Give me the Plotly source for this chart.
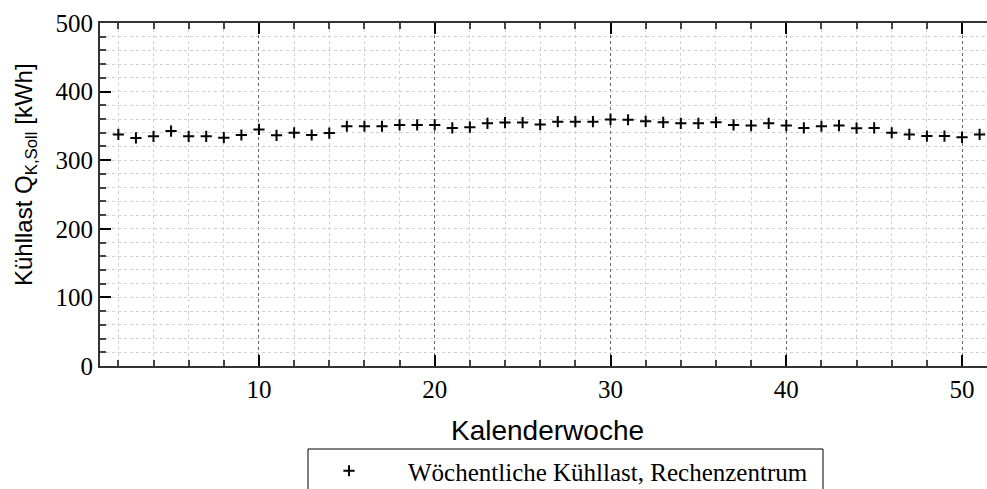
import plotly.graph_objects as go

# Wöchentliche Kühllast des Rechenzentrums (KW 2–51)
weeks = list(range(2, 52))
load_kwh = [
    337.6, 332.4, 334.8, 342.4, 334.8, 334.8, 332.9, 336.7, 344.8, 336.2,
    340.0, 336.7, 339.5, 349.5, 349.5, 349.5, 351.4, 351.4, 351.4, 347.1,
    348.1, 353.8, 354.8, 354.8, 351.9, 356.2, 356.2, 356.2, 359.5, 359.0,
    356.7, 355.2, 353.8, 353.8, 355.2, 351.4, 350.5, 353.8, 350.5, 347.1,
    349.5, 350.5, 346.7, 347.1, 340.0, 337.6, 335.2, 335.2, 333.3, 337.6,
]
series_name = "Wöchentliche Kühllast, Rechenzentrum"
x_title = "Kalenderwoche"
y_title = "Kühllast Q<sub>K,Soll</sub> [kWh]"

W, H = 987, 489
L, R, T, B = 100, 0, 23, 123

serif = "Liberation Serif"
sans = "Liberation Sans"
axis_col = "#333333"


def cx(px):
    """container x fraction from a pixel column"""
    return px / W


def cy(py):
    """container y fraction from a pixel row (measured from the top)"""
    return 1 - py / H


fig = go.Figure()
fig.add_trace(go.Scatter(
    x=weeks, y=load_kwh, mode="markers", name=series_name,
    marker=dict(symbol="cross-thin", size=8, color="black",
                line=dict(color="black", width=2)),
    cliponaxis=False,
))

fig.update_layout(
    width=W, height=H,
    margin=dict(l=L, r=R, t=T, b=B, autoexpand=False),
    paper_bgcolor="white", plot_bgcolor="white",
    font=dict(family=serif, size=24, color="black"),
    showlegend=True,
    legend=dict(
        xref="container", yref="container",
        x=cx(290), xanchor="left",
        y=cy(448), yanchor="top",
        bgcolor="rgba(0,0,0,0)", borderwidth=0,
        itemwidth=108,
        font=dict(family=serif, size=25, color="black"),
    ),
    xaxis=dict(
        range=[0.956, 51.42],
        automargin=False,
        tickmode="linear", tick0=0, dtick=10,
        ticks="inside", ticklen=11, tickwidth=1.5, tickcolor="black",
        showline=True, linecolor=axis_col, linewidth=2, mirror="allticks",
        showgrid=True, gridcolor="#6a6a6a", griddash="dot", gridwidth=1,
        zeroline=False,
        tickfont=dict(family=serif, size=25, color="black"),
        minor=dict(dtick=2, tick0=0, ticks="inside", ticklen=6,
                   tickcolor="#444444", showgrid=True,
                   gridcolor="#d0d0d0", griddash="dot", gridwidth=1),
    ),
    yaxis=dict(
        range=[0, 500],
        automargin=False,
        tickmode="linear", tick0=0, dtick=100,
        ticks="inside", ticklen=11, tickwidth=1.5, tickcolor="black",
        showline=True, linecolor=axis_col, linewidth=2, mirror=False,
        showgrid=True, gridcolor="#d0d0d0", griddash="dot", gridwidth=1,
        zeroline=False,
        tickfont=dict(family=serif, size=25, color="black"),
        minor=dict(dtick=20, tick0=0, ticks="inside", ticklen=6,
                   tickcolor="#444444", showgrid=True,
                   gridcolor="#d0d0d0", griddash="dot", gridwidth=1),
    ),
)

# axis titles as free text
fig.add_annotation(
    text=x_title, showarrow=False,
    xref="paper", yref="paper",
    x=(547 - L) / (W - L - R), y=(H - B - 430) / (H - T - B),
    xanchor="center", yanchor="middle",
    font=dict(family=sans, size=28, color="black"),
)
fig.add_annotation(
    text=y_title, textangle=-90, showarrow=False,
    xref="paper", yref="paper",
    x=(25 - L) / (W - L - R), y=(H - B - 175) / (H - T - B),
    xanchor="center", yanchor="middle",
    font=dict(family=sans, size=24, color="black"),
)

# legend frame
fig.add_shape(
    type="rect", xref="paper", yref="paper",
    x0=(308 - L) / (W - L - R), x1=(823 - L) / (W - L - R),
    y0=(H - B - 449) / (H - T - B), y1=(H - B - 500) / (H - T - B),
    line=dict(color="black", width=1), fillcolor="rgba(0,0,0,0)",
    layer="above",
)

fig.write_html("out.html")
